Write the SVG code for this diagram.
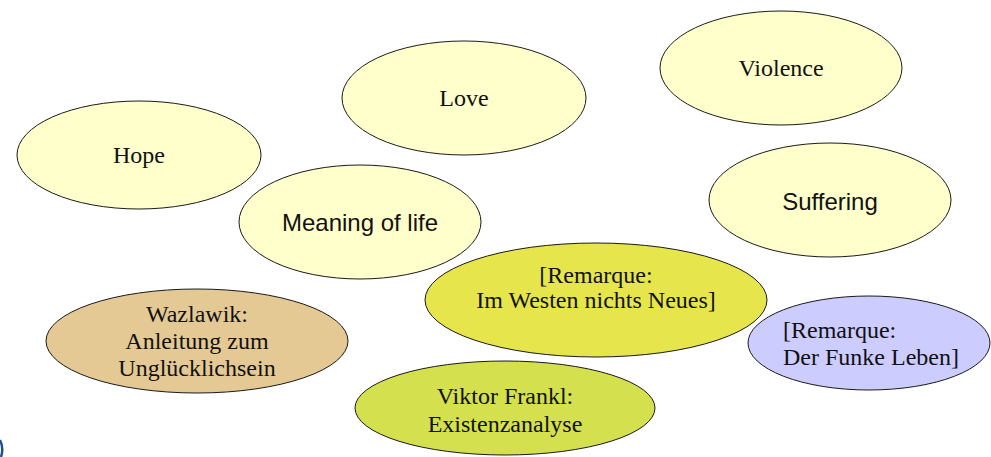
<svg xmlns="http://www.w3.org/2000/svg" width="991" height="457" viewBox="0 0 991 457">
  <style>
    .node ellipse { stroke: #1a1a1a; stroke-width: 1; }
    .pale { fill: #ffffcc; }
    .serif { font-family: "Liberation Serif", "Times New Roman", serif; font-size: 24px; fill: #111; }
    .sans { font-family: "Liberation Sans", Arial, sans-serif; font-size: 24px; fill: #111; }
  </style>
  <rect width="991" height="457" fill="#ffffff"/>
  <g id="connectors"></g>

  <g id="hope" class="node">
    <ellipse class="pale" cx="139" cy="155" rx="122" ry="54"/>
    <text class="serif" x="139" y="163" text-anchor="middle">Hope</text>
  </g>
  <g id="love" class="node">
    <ellipse class="pale" cx="464" cy="98" rx="122" ry="57"/>
    <text class="serif" x="464" y="106" text-anchor="middle">Love</text>
  </g>
  <g id="violence" class="node">
    <ellipse class="pale" cx="781" cy="68" rx="121" ry="57"/>
    <text class="serif" x="781" y="76" text-anchor="middle">Violence</text>
  </g>
  <g id="suffering" class="node">
    <ellipse class="pale" cx="830" cy="200" rx="121" ry="57"/>
    <text class="sans" x="830" y="210" text-anchor="middle">Suffering</text>
  </g>
  <g id="meaning-of-life" class="node">
    <ellipse class="pale" cx="360" cy="222" rx="121" ry="57"/>
    <text class="sans" x="360" y="231" text-anchor="middle">Meaning of life</text>
  </g>
  <g id="im-westen" class="node">
    <ellipse cx="596" cy="300" rx="171" ry="57" fill="#e6e64c"/>
    <text class="serif" x="596" y="283" text-anchor="middle">[Remarque:</text>
    <text class="serif" x="596" y="308" text-anchor="middle">Im Westen nichts Neues]</text>
  </g>
  <g id="funke-leben" class="node">
    <ellipse cx="869" cy="343" rx="121" ry="47" fill="#ccccff"/>
    <text class="serif" x="783" y="338">[Remarque:</text>
    <text class="serif" x="783" y="365">Der Funke Leben]</text>
  </g>
  <g id="wazlawik" class="node">
    <ellipse cx="197" cy="341" rx="151" ry="52" fill="#e4c995"/>
    <text class="serif" x="197" y="322" text-anchor="middle">Wazlawik:</text>
    <text class="serif" x="197" y="349" text-anchor="middle">Anleitung zum</text>
    <text class="serif" x="197" y="376" text-anchor="middle">Unglücklichsein</text>
  </g>
  <g id="frankl" class="node">
    <ellipse cx="505" cy="408" rx="150" ry="47" fill="#d4e04e"/>
    <text class="serif" x="505" y="404" text-anchor="middle">Viktor Frankl:</text>
    <text class="serif" x="505" y="432" text-anchor="middle">Existenzanalyse</text>
  </g>

  <path d="M0,440 Q4,448 1,457" fill="none" stroke="#1f4f8f" stroke-width="2.5"/>
</svg>
